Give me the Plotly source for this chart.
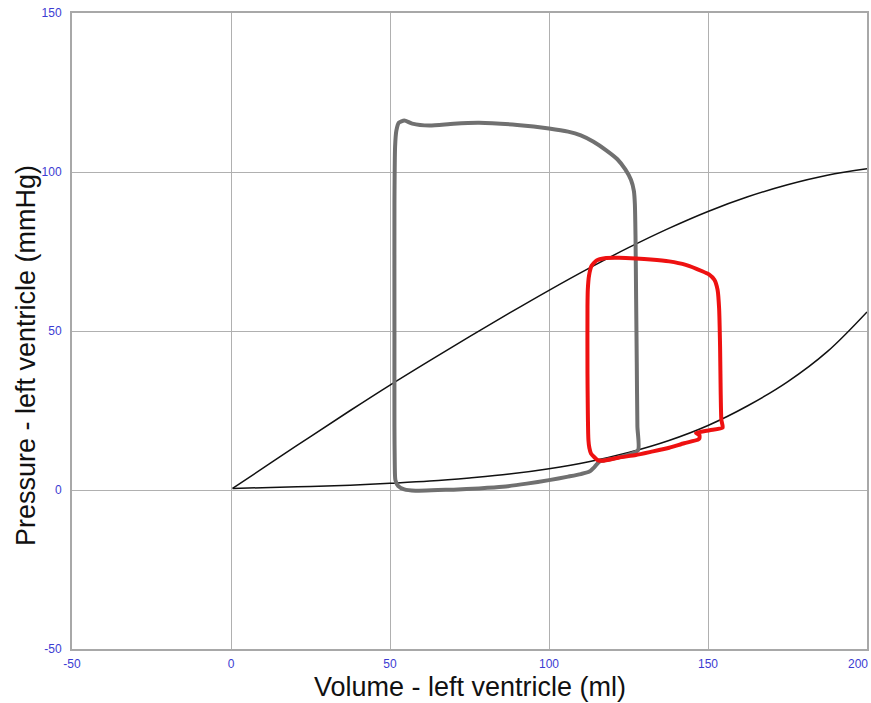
import plotly.graph_objects as go

# Black reference curves
curve_v = [0.5, 12.5, 25, 37.5, 50, 62.5, 75, 87.5, 100, 112.5, 125, 137.5, 150, 162.5, 175, 187.5, 200]
espvr_p = [0.5, 8.5, 16.8, 25.0, 33.0, 40.7, 48.2, 55.6, 62.8, 69.7, 76.2, 82.2, 87.6, 92.2, 96.0, 99.0, 101.0]
edpvr_p = [0.5, 0.8, 1.1, 1.5, 2.1, 2.8, 3.8, 5.0, 6.7, 8.9, 11.8, 15.5, 20.3, 26.5, 34.0, 43.5, 56.0]

# Grey (normal) pressure-volume loop
grey_v = [51.7, 52.6, 54.5, 58, 65, 70, 78, 85.4, 93, 100, 106, 110, 112.7, 114.3, 115.8, 120, 124, 128.0,
          127.8, 127.6, 127.4, 127.2, 127.0, 126.7, 125.8, 124.0, 121.5, 118, 114, 110, 106, 100,
          90, 78, 70, 62.4, 57, 54.5, 52.8, 52.0, 51.6, 51.4, 51.4, 51.4, 51.5, 51.7]
grey_p = [3.1, 1.2, 0.2, -0.2, 0.0, 0.1, 0.5, 1.0, 2.0, 3.1, 4.2, 5.0, 5.8, 7.2, 8.9, 9.8, 10.8, 12.5,
          20, 40, 60, 80, 90, 94, 97.5, 100.8, 104, 106.8, 109.5, 111.5, 112.7, 113.7,
          114.8, 115.5, 115.2, 114.6, 115.2, 116.2, 115.5, 113, 108, 90, 50, 20, 8, 3.1]

# Red (failing) pressure-volume loop
red_v = [112.4, 112.7, 113.2, 115.3, 116.9, 122, 127.3, 132, 137.8, 142.5, 146.8, 147.3, 147.3, 146.2, 150.5,
         154.6, 154.2, 154.0, 153.8, 153.5, 153.0, 152.0, 150.3, 148.2, 143, 137.8, 132, 127.3, 122, 117.5,
         115.0, 113.4, 112.6, 112.2, 112.1, 112.1, 112.4]
red_p = [15.7, 13.2, 11.5, 9.4, 9.2, 10.2, 11.0, 12.0, 13.3, 14.7, 15.8, 16.2, 17.3, 17.9, 18.8,
         19.6, 22, 30, 45, 57, 63, 66.1, 67.8, 68.8, 70.8, 71.9, 72.5, 72.8, 73.0, 72.9,
         72.2, 70.5, 67.5, 63, 57.7, 36.7, 15.7]

x_ticks = [-50, 0, 50, 100, 150, 200]
y_ticks = [-50, 0, 50, 100, 150]

tick_font = dict(family="Liberation Sans, Arial", size=12, color="#3c3cd2")
title_font = dict(family="Liberation Sans, Arial", size=27, color="#111111")

fig = go.Figure()
fig.add_trace(go.Scatter(x=curve_v, y=espvr_p, mode="lines", line=dict(color="#111111", width=1.5, shape="spline"), hoverinfo="skip"))
fig.add_trace(go.Scatter(x=curve_v, y=edpvr_p, mode="lines", line=dict(color="#111111", width=1.5, shape="spline"), hoverinfo="skip"))
fig.add_trace(go.Scatter(x=grey_v, y=grey_p, mode="lines", line=dict(color="#707070", width=4, shape="spline", smoothing=0.6), hoverinfo="skip"))
fig.add_trace(go.Scatter(x=red_v, y=red_p, mode="lines", line=dict(color="#ee1111", width=4, shape="spline", smoothing=0.5), hoverinfo="skip"))

axis_common = dict(
    showgrid=True, gridcolor="#b0b0b0", gridwidth=1,
    zeroline=True, zerolinecolor="#b0b0b0", zerolinewidth=1,
    showline=True, linecolor="#a8a8a8", linewidth=2, mirror=True,
    ticks="", tickfont=tick_font, automargin=False,
)
# last x tick label is drawn right-aligned at the plot edge (as in the original)
x_ticktext = [str(t) for t in x_ticks[:-1]] + [""]

fig.update_layout(
    width=871, height=703,
    margin=dict(l=72, r=4, t=13, b=54),
    paper_bgcolor="white", plot_bgcolor="white",
    showlegend=False,
    xaxis=dict(range=[-50, 200], tickvals=x_ticks, ticktext=x_ticktext, ticklabelstandoff=3, **axis_common),
    yaxis=dict(range=[-50, 150], tickvals=y_ticks, ticktext=[str(t) for t in y_ticks], ticklabelstandoff=6, **axis_common),
    annotations=[
        dict(text=str(x_ticks[-1]), xref="x", yref="paper", x=x_ticks[-1], y=0, xanchor="right", yanchor="top",
             yshift=-6, xshift=3, showarrow=False, font=tick_font),
        dict(text="Volume - left ventricle (ml)", xref="paper", yref="paper", x=0.5, y=-0.06,
             xanchor="center", yanchor="middle", showarrow=False, font=title_font),
        dict(text="Pressure - left ventricle (mmHg)", xref="paper", yref="paper", x=-0.058, y=0.462,
             xanchor="center", yanchor="middle", textangle=-90, showarrow=False, font=title_font),
    ],
)

fig.write_html("out.html", config={"displayModeBar": False},
               post_script="document.body.style.margin='0';")
